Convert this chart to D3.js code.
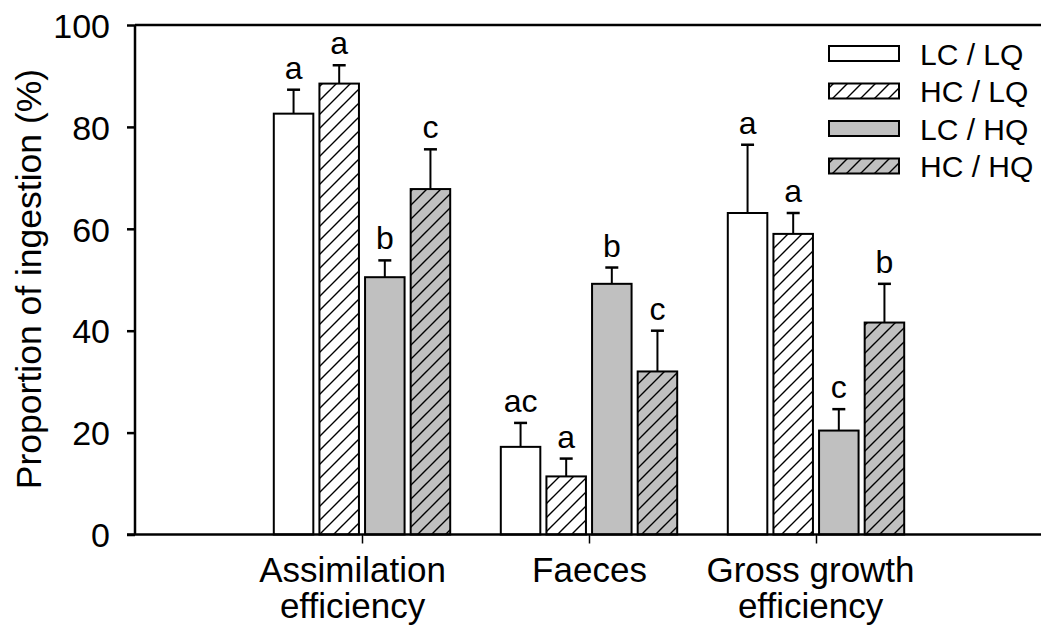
<!DOCTYPE html>
<html>
<head>
<meta charset="utf-8">
<script src="https://cdn.jsdelivr.net/npm/d3@7"></script>
<style>
  html, body { margin: 0; padding: 0; background: #fff; }
  svg { display: block; font-family: "Liberation Sans", Arial, sans-serif; }
</style>
</head>
<body>
<svg id="chart" width="1041" height="641"></svg>
<script>
// ---- data ----
const categories = [["Assimilation", "efficiency"], ["Faeces"], ["Gross growth", "efficiency"]];
const seriesNames = ["LC / LQ", "HC / LQ", "LC / HQ", "HC / HQ"];
const lcLq = [82.6, 17.2, 63.1];
const hcLq = [88.5, 11.4, 59.0];
const lcHq = [50.5, 49.2, 20.4];
const hcHq = [67.8, 32.0, 41.6];
const lcLqErr = [4.7, 4.7, 13.4];
const hcLqErr = [3.6, 3.5, 4.1];
const lcHqErr = [3.3, 3.2, 4.2];
const hcHqErr = [7.8, 8.0, 7.6];
const lcLqSig = ["a", "ac", "a"];
const hcLqSig = ["a", "a", "a"];
const lcHqSig = ["b", "b", "c"];
const hcHqSig = ["c", "c", "b"];
const yTicks = [0, 20, 40, 60, 80, 100];

const seriesValues = [lcLq, hcLq, lcHq, hcHq];
const seriesErrs = [lcLqErr, hcLqErr, lcHqErr, hcHqErr];
const seriesSigs = [lcLqSig, hcLqSig, lcHqSig, hcHqSig];
const seriesFill = ["#ffffff", "url(#hatchWhite)", "#c0c0c0", "url(#hatchGrey)"];

const svg = d3.select("#chart");

// patterns
const defs = svg.append("defs");
function hatch(id, bg) {
  const p = defs.append("pattern").attr("id", id)
    .attr("patternUnits", "userSpaceOnUse").attr("width", 14).attr("height", 14);
  p.append("rect").attr("width", 14).attr("height", 14).attr("fill", bg);
  p.append("path").attr("d", "M-2,2 L2,-2 M0,14 L14,0 M12,16 L16,12")
    .attr("stroke", "#000").attr("stroke-width", 1.4).attr("fill", "none");
}
hatch("hatchWhite", "#ffffff");
hatch("hatchGrey", "#c0c0c0");

// scales
const x = d3.scaleLinear().domain([0, 4]).range([135, 1043]);
const y = d3.scaleLinear().domain([0, 100]).range([534.5, 25]);
const xs = d3.scaleBand().domain(d3.range(4)).range([-89.2, 89.2]).paddingInner(0.09).paddingOuter(0);

// frame top line
svg.append("line").attr("x1", 135).attr("x2", 1041).attr("y1", y(100)).attr("y2", y(100))
  .attr("stroke", "#000").attr("stroke-width", 2.5);

// bars
const barData = [];
seriesValues.forEach((vals, s) => {
  vals.forEach((v, c) => {
    barData.push({ s, c, v, e: seriesErrs[s][c], sig: seriesSigs[s][c] });
  });
});
const bw = xs.bandwidth() - 2;
const g = svg.append("g");
const bar = g.selectAll("g.bar").data(barData).join("g").attr("class", "bar");
bar.append("rect")
  .attr("x", d => x(d.c + 1) + xs(d.s) + 1)
  .attr("width", bw)
  .attr("y", d => y(d.v))
  .attr("height", d => y(0) - y(d.v))
  .attr("fill", d => seriesFill[d.s])
  .attr("stroke", "#000").attr("stroke-width", 2);
const cx = d => x(d.c + 1) + xs(d.s) + xs.bandwidth() / 2;
bar.append("line")
  .attr("x1", cx).attr("x2", cx)
  .attr("y1", d => y(d.v)).attr("y2", d => y(d.v + d.e))
  .attr("stroke", "#000").attr("stroke-width", 2);
bar.append("line")
  .attr("x1", d => cx(d) - 6.5).attr("x2", d => cx(d) + 6.5)
  .attr("y1", d => y(d.v + d.e)).attr("y2", d => y(d.v + d.e))
  .attr("stroke", "#000").attr("stroke-width", 2.5);
bar.append("text")
  .attr("x", cx).attr("y", d => y(d.v + d.e) - 11)
  .attr("text-anchor", "middle").attr("font-size", 32).attr("fill", "#000")
  .text(d => d.sig);

// y axis
const yAxis = svg.append("g").attr("transform", "translate(135,0)")
  .call(d3.axisLeft(y).tickValues(yTicks).tickSize(8).tickPadding(17).tickFormat(d3.format("d")));
yAxis.select(".domain").attr("stroke", "#000").attr("stroke-width", 2.5)
  .attr("d", `M0,${y(100)}V${y(0)}`);
yAxis.selectAll(".tick line").attr("stroke", "#000").attr("stroke-width", 2.5);
yAxis.selectAll(".tick text").attr("font-size", 34).attr("fill", "#000")
  .attr("font-family", "Liberation Sans, Arial, sans-serif").attr("dy", "0.36em");

// x axis
const xAxis = svg.append("g").attr("transform", `translate(0,${y(0)})`)
  .call(d3.axisBottom(x).tickValues([1, 2, 3]).tickSize(9).tickFormat(""));
xAxis.select(".domain").attr("stroke", "#000").attr("stroke-width", 2.5)
  .attr("d", `M127,0H1041`);
xAxis.selectAll(".tick line").attr("stroke", "#000").attr("stroke-width", 1.5);
// two-line labels sit slightly left of their tick in the original
xAxis.selectAll(".tick").each(function (d) {
  const lines = categories[d - 1];
  const shift = lines.length > 1 ? (d === 1 ? -10 : -6) : 0;
  const t = d3.select(this).append("text")
    .attr("text-anchor", "middle").attr("font-size", 35).attr("fill", "#000")
    .attr("font-family", "Liberation Sans, Arial, sans-serif")
    .attr("y", 47);
  lines.forEach((line, i) => {
    t.append("tspan").attr("x", shift).attr("dy", i === 0 ? 0 : 36).text(line);
  });
});

// y title
svg.append("text")
  .attr("transform", `translate(41,${279}) rotate(-90)`)
  .attr("text-anchor", "middle").attr("font-size", 35.5).attr("fill", "#000")
  .text("Proportion of ingestion (%)");

// legend
const legend = svg.append("g");
const li = legend.selectAll("g").data(seriesNames).join("g")
  .attr("transform", (d, i) => `translate(0,${53.5 + i * 37.5})`);
li.append("rect").attr("x", 829).attr("y", -7.5).attr("width", 70).attr("height", 15)
  .attr("fill", (d, i) => seriesFill[i]).attr("stroke", "#000").attr("stroke-width", 2);
li.append("text").attr("x", 920).attr("y", 11).attr("font-size", 30).attr("fill", "#000")
  .text(d => d);
</script>
</body>
</html>
